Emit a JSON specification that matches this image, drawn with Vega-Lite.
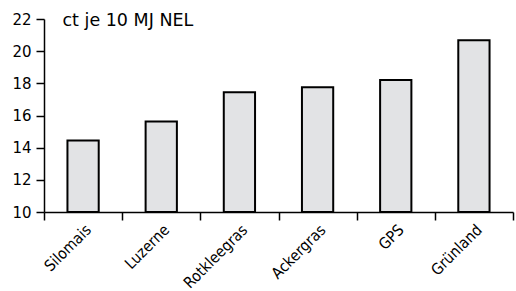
{
  "$schema": "https://vega.github.io/schema/vega-lite/v6.json",
  "width": 469,
  "height": 193,
  "autosize": {"type": "none"},
  "padding": {"left": 44, "top": 19, "right": 3, "bottom": 79},
  "background": "white",
  "data": {
    "values": [
      {"kategorie": "Silomais", "wert": 14.45},
      {"kategorie": "Luzerne", "wert": 15.62},
      {"kategorie": "Rotkleegras", "wert": 17.44},
      {"kategorie": "Ackergras", "wert": 17.75},
      {"kategorie": "GPS", "wert": 18.21},
      {"kategorie": "Grünland", "wert": 20.68}
    ]
  },
  "mark": {"type": "bar", "fill": "#e2e3e5", "stroke": "black", "strokeWidth": 2, "width": {"band": 0.4}},
  "encoding": {
    "x": {
      "field": "kategorie",
      "type": "nominal",
      "sort": null,
      "scale": {"paddingInner": 0, "paddingOuter": 0},
      "axis": {
        "title": null,
        "labelAngle": -45,
        "labelAlign": "right",
        "labelBaseline": "top",
        "labelFont": "DejaVu Sans Condensed, DejaVu Sans",
        "labelFontSize": 15.5,
        "labelColor": "black",
        "labelPadding": 2,
        "labelOverlap": false,
        "labelLimit": 0,
        "tickBand": "extent",
        "tickSize": 8,
        "tickColor": "black",
        "tickWidth": 1.5,
        "domainColor": "black",
        "domainWidth": 1.5,
        "grid": false
      }
    },
    "y": {
      "field": "wert",
      "type": "quantitative",
      "scale": {"domain": [10, 22], "nice": false, "zero": false},
      "axis": {
        "title": "ct je 10 MJ NEL",
        "titleAngle": 0,
        "titleAlign": "left",
        "titleBaseline": "alphabetic",
        "titleX": 18,
        "titleY": 6,
        "titleFont": "DejaVu Sans",
        "titleFontSize": 17.5,
        "titleFontWeight": "normal",
        "titleColor": "black",
        "values": [10, 12, 14, 16, 18, 20, 22],
        "labelFont": "DejaVu Sans",
        "labelFontSize": 15,
        "labelColor": "black",
        "labelPadding": 5,
        "tickSize": 8,
        "tickColor": "black",
        "tickWidth": 1.5,
        "domainColor": "black",
        "domainWidth": 1.5,
        "grid": false
      }
    },
    "y2": {"datum": 10}
  },
  "config": {"view": {"stroke": null}}
}
